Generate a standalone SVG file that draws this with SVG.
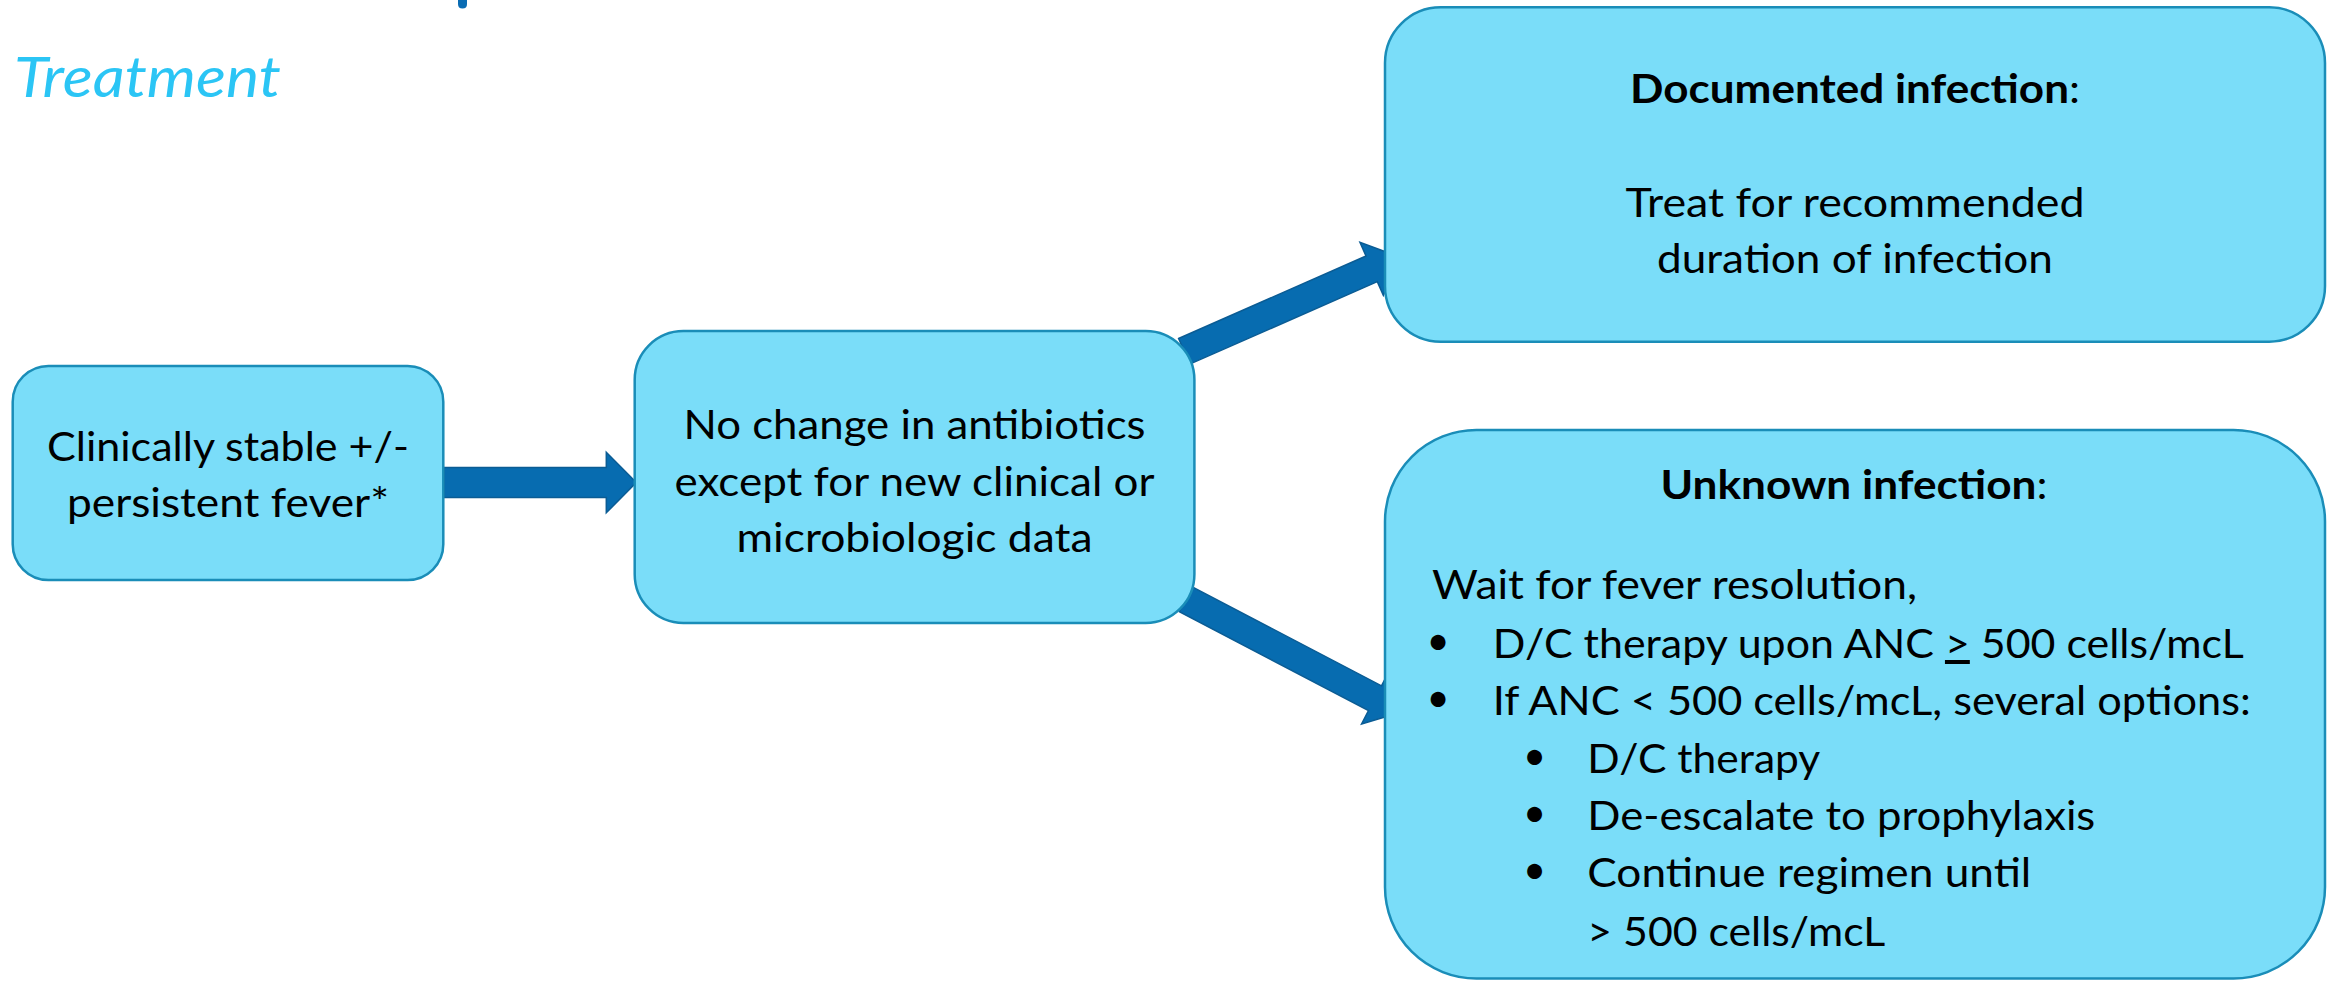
<svg xmlns="http://www.w3.org/2000/svg" width="2336" height="981" viewBox="0 0 2336 981">
  <defs>
    <style>
      .box { fill: #7ADDF9; stroke: #1A8DB8; stroke-width: 2.5; }
      .arrow { fill: #076CB0; stroke: #0B5C94; stroke-width: 1.5; stroke-linejoin: miter; }
      .t { font-family: Lato, "Liberation Sans", sans-serif; font-size: 40px; fill: #000000; }
      .c { text-anchor: middle; }
      .b { font-weight: bold; }
      .bul { font-family: Lato, "Liberation Sans", sans-serif; font-size: 40px; fill: #000000; text-anchor: middle; }
      .sub { font-family: Lato, "Liberation Sans", sans-serif; font-style: italic; font-size: 57px; fill: #2BC5F5; }
    </style>
  </defs>

  <rect x="0" y="0" width="2336" height="981" fill="#FFFFFF"/>

  <!-- heading area -->
  <g id="heading">
    <path d="M458 -2 H467 V4 Q467 8.5 462.5 8.5 Q458 8.5 458 4 Z" fill="#0A6CB3"/>
    <text class="sub" x="14" y="96.7" textLength="267" lengthAdjust="spacingAndGlyphs">Treatment</text>
  </g>

  <!-- block arrows -->
  <g id="connectors">
    <polygon class="arrow" transform="translate(444 482.5)" points="0,-15 162.3,-15 162.3,-30.3 192.3,0 162.3,30.3 162.3,15 0,15"/>
    <polygon class="arrow" transform="translate(1184.2 351.3) rotate(-23.75)" points="0,-14 204.8,-14 204.8,-29 234.8,0 204.8,29 204.8,14 0,14"/>
    <polygon class="arrow" transform="translate(1185.8 599.3) rotate(27.6)" points="0,-14 213.5,-14 213.5,-29 243.5,0 213.5,29 213.5,14 0,14"/>
  </g>

  <g id="stable">
    <rect class="box" x="12.7" y="366" width="430.6" height="214" rx="35.7" ry="35.7"/>
    <text class="t c" x="228" y="460.7" textLength="362" lengthAdjust="spacingAndGlyphs">Clinically stable +/-</text>
    <text class="t c" x="228" y="516.7" textLength="322" lengthAdjust="spacingAndGlyphs">persistent fever*</text>
  </g>

  <g id="no-change">
    <rect class="box" x="634.7" y="331" width="559.7" height="292" rx="48.7" ry="48.7"/>
    <text class="t c" x="914.5" y="439.3" textLength="462" lengthAdjust="spacingAndGlyphs">No change in antibiotics</text>
    <text class="t c" x="914.5" y="496" textLength="480" lengthAdjust="spacingAndGlyphs">except for new clinical or</text>
    <text class="t c" x="914.5" y="552.3" textLength="356" lengthAdjust="spacingAndGlyphs">microbiologic data</text>
  </g>

  <g id="documented">
    <rect class="box" x="1385" y="7.3" width="940" height="334.4" rx="55.7" ry="55.7"/>
    <text class="t c" x="1855" y="103.3" textLength="450" lengthAdjust="spacingAndGlyphs"><tspan class="b">Documented infection</tspan>:</text>
    <text class="t c" x="1855" y="216.7" textLength="459" lengthAdjust="spacingAndGlyphs">Treat for recommended</text>
    <text class="t c" x="1855" y="273.3" textLength="396" lengthAdjust="spacingAndGlyphs">duration of infection</text>
  </g>

  <g id="unknown">
    <rect class="box" x="1385" y="430" width="940" height="548.5" rx="91.4" ry="91.4"/>
    <text class="t c" x="1854" y="498.8" textLength="387" lengthAdjust="spacingAndGlyphs"><tspan class="b">Unknown infection</tspan>:</text>
    <text class="t" x="1432" y="599" textLength="485" lengthAdjust="spacingAndGlyphs">Wait for fever resolution,</text>

    <text class="bul" x="1438" y="655">•</text>
    <text class="t" x="1492.8" y="658" textLength="751" lengthAdjust="spacingAndGlyphs">D/C therapy upon ANC <tspan text-decoration="underline">&gt;</tspan> 500 cells/mcL</text>

    <text class="bul" x="1438" y="712.2">•</text>
    <text class="t" x="1492.8" y="715.2" textLength="758" lengthAdjust="spacingAndGlyphs">If ANC &lt; 500 cells/mcL, several options:</text>

    <text class="bul" x="1534.5" y="769.8">•</text>
    <text class="t" x="1587.3" y="772.8" textLength="233" lengthAdjust="spacingAndGlyphs">D/C therapy</text>

    <text class="bul" x="1534.5" y="827">•</text>
    <text class="t" x="1587.3" y="830" textLength="508" lengthAdjust="spacingAndGlyphs">De-escalate to prophylaxis</text>

    <text class="bul" x="1534.5" y="884">•</text>
    <text class="t" x="1587.3" y="887" textLength="444" lengthAdjust="spacingAndGlyphs">Continue regimen until</text>
    <text class="t" x="1587.3" y="946" textLength="298" lengthAdjust="spacingAndGlyphs">&gt; 500 cells/mcL</text>
  </g>
</svg>
